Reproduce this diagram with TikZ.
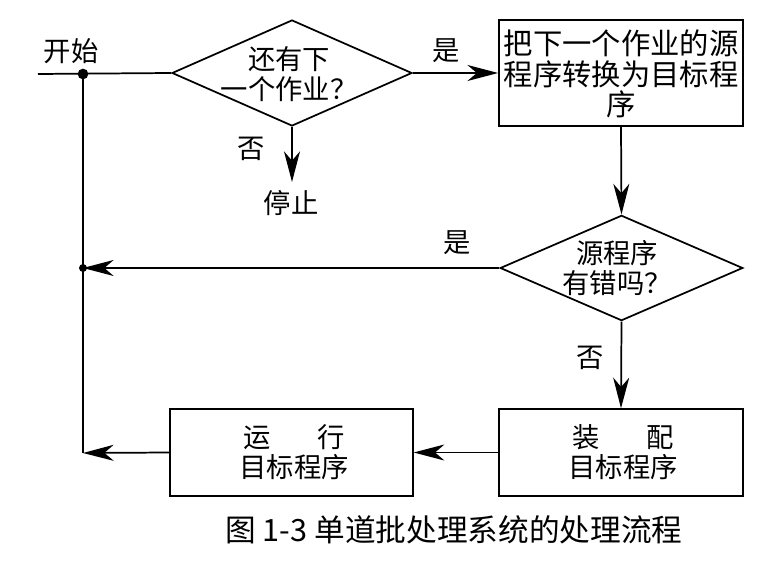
\documentclass[tikz,border=0pt]{standalone}
\usepackage{fontspec}
\setmainfont{Noto Sans CJK SC}
\usetikzlibrary{shapes.geometric,arrows.meta}
\begin{document}
\begin{tikzpicture}[x=0.75pt,y=-0.75pt,
  line width=1.3pt,
  arr/.style={-{Stealth[length=23pt,width=12pt,inset=7pt]}},
  dia/.style={draw,diamond,inner sep=0pt},
  boxn/.style={draw,rectangle,inner sep=0pt},
  txt/.style={align=center,inner sep=2pt,font=\fontsize{20.5pt}{22.5pt}\selectfont},
  lbl/.style={inner sep=2pt,font=\fontsize{20.5pt}{22.5pt}\selectfont},
  dot/.style={fill,circle,inner sep=0pt,minimum size=#1}]
\useasboundingbox (0,0) rectangle (767,566);

% shapes
\node[dia,minimum width=180pt,minimum height=79.5pt] (d1) at (292,73) {};
\node[txt] (d1t) at (289,74) {还有下\\一个作业？};
\node[boxn,minimum width=183pt,minimum height=79.5pt] (b1) at (621,73) {};
\node[txt,font=\fontsize{22pt}{23pt}\selectfont] (b1t) at (621,74) {把下一个作业的源\\程序转换为目标程\\序};
\node[dia,minimum width=182pt,minimum height=79pt] (d2) at (621.5,268) {};
\node[txt] (d2t) at (617,268) {源程序\\有错吗？};
\node[boxn,minimum width=183pt,minimum height=65pt] (b2) at (621,452.5) {};
\node[txt] (b2t) at (623,452.5) {装\hspace{1.7em}配\\目标程序};
\node[boxn,minimum width=182pt,minimum height=65pt] (b3) at (291.5,452.5) {};
\node[txt] (b3t) at (294,452.5) {运\hspace{1.7em}行\\目标程序};

% labels
\node[lbl] (start) at (71,51) {开始};
\node[lbl] (yes1) at (446,51) {是};
\node[lbl] (no1) at (251,149) {否};
\node[lbl] (stop) at (291,203) {停止};
\node[lbl] (yes2) at (457,243) {是};
\node[lbl] (no2) at (590,358) {否};
\node[inner sep=0pt,font=\fontsize{23pt}{25pt}\selectfont] (cap) at (454,530) {图 1-3 单道批处理系统的处理流程};

% junctions
\coordinate (s) at (38,74);
\node[dot=8pt] (j1) at (83,74) {};
\node[dot=6pt] (j2) at (83,268) {};
\coordinate (j3) at (83,453);

% connectors
\draw (s) -- (d1.west);
\draw[arr] (d1.east) -- (b1.west);
\draw[arr] (d1.south) -- (292,182);
\draw[arr] (b1.south) -- (d2.north);
\draw[arr] (d2.west) -- (j2.center);
\draw[arr] (d2.south) -- (b2.north);
\draw[arr] (b2.west) -- (b3.east);
\draw[arr] (b3.west) -- (j3);
\draw (j1.center) -- (j3);
\end{tikzpicture}
\end{document}
